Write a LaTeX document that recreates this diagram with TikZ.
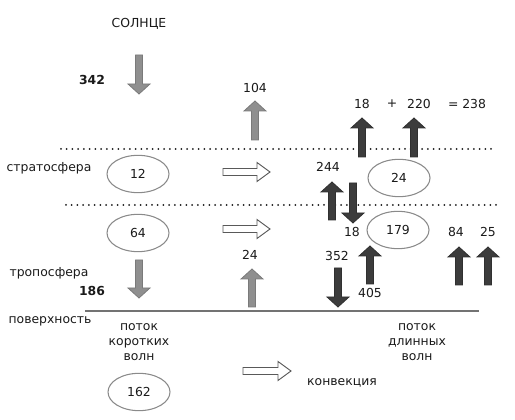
\documentclass[tikz,border=0pt]{standalone}
\usepackage{fontspec}
\setmainfont{DejaVu Sans}
\usepackage{xcolor}
\usetikzlibrary{shapes.geometric}
\definecolor{rimgray}{HTML}{8A8A8A}
\definecolor{lightflow}{HTML}{8F8F8F}
\definecolor{darkflow}{HTML}{3C3C3C}
\definecolor{txtgray}{HTML}{1A1A1A}
% block arrows: style, x, tail y, tip y
\newcommand{\flowup}[4]{\draw[#1] ({#2-3.5},#3) -- ({#2-3.5},{#4+10}) -- ({#2-11},{#4+10}) -- (#2,#4) -- ({#2+11},{#4+10}) -- ({#2+3.5},{#4+10}) -- ({#2+3.5},#3) -- cycle;}
\newcommand{\flowdown}[4]{\draw[#1] ({#2-3.5},#3) -- ({#2-3.5},{#4-10}) -- ({#2-11},{#4-10}) -- (#2,#4) -- ({#2+11},{#4-10}) -- ({#2+3.5},{#4-10}) -- ({#2+3.5},#3) -- cycle;}
% open arrow: style, tail x, tip x, y
\newcommand{\flowright}[4]{\draw[#1] (#2,{#4-3.5}) -- ({#3-13},{#4-3.5}) -- ({#3-13},{#4-9.5}) -- (#3,#4) -- ({#3-13},{#4+9.5}) -- ({#3-13},{#4+3.5}) -- (#2,{#4+3.5}) -- cycle;}

\begin{document}
\begin{tikzpicture}[x=0.75pt, y=-0.75pt, font=\fontsize{9.3}{11.25}\selectfont,
    lbl/.style={inner sep=0pt, text=txtgray, align=center},
    bold/.style={lbl, font=\fontsize{9.3}{11.25}\selectfont\bfseries},
    layer/.style={ellipse, draw=rimgray, line width=0.8pt, minimum width=46.5pt, minimum height=28pt, inner sep=0pt, text=txtgray},
    lightarrow/.style={fill=lightflow, draw=lightflow!85!black, line width=0.6pt},
    darkarrow/.style={fill=darkflow, draw=darkflow!80!black, line width=0.6pt},
    openarrow/.style={fill=white, draw=black!65, line width=0.7pt},
    dotline/.style={line width=1.5pt, line cap=round, dash pattern=on 0pt off 4.3pt, black!90},
    groundline/.style={line width=0.9pt, draw=black!55}]
    \useasboundingbox (0,0) rectangle (515,420);

    % layer boundaries
    \draw[dotline] (61,149) -- (496,149);
    \draw[dotline] (66,205) -- (499,205);
    \draw[groundline] (85,311) -- (479,311);

    % labels
    \node[lbl] (sun) at (139,24) {СОЛНЦЕ};
    \node[bold] (insol) at (92,80) {342};
    \node[lbl] (refl) at (255,88) {104};
    \node[lbl] (outa) at (362,104) {18};
    \node[lbl] (plus) at (392,104) {+};
    \node[lbl] (outb) at (419,104) {220};
    \node[lbl] (outsum) at (467,104) {= 238};
    \node[lbl] (strato) at (49,168) {стратосфера};
    \node[lbl] (strdown) at (328,167) {244};
    \node[lbl] (strup) at (352,232) {18};
    \node[lbl] (trpa) at (456,232) {84};
    \node[lbl] (trpb) at (488,232) {25};
    \node[lbl] (tropo) at (49,273) {тропосфера};
    \node[bold] (absorb) at (92,291) {186};
    \node[lbl] (convup) at (250,255) {24};
    \node[lbl] (back) at (337,256) {352};
    \node[lbl] (emit) at (370,293) {405};
    \node[lbl] (surf) at (50,321) {поверхность};
    \node[lbl] (shortw) at (139,342) {поток\\коротких\\волн};
    \node[lbl] (longw) at (417,342) {поток\\длинных\\волн};
    \node[lbl] (conv) at (342,383) {конвекция};

    % balance ellipses
    \node[layer] (st12) at (138,174) {12};
    \node[layer] (st24) at (399,178) {24};
    \node[layer] (tr64) at (138,233) {64};
    \node[layer] (tr179) at (398,230) {179};
    \node[layer] (gr162) at (139,392) {162};

    % short wave flows
    \flowdown{lightarrow}{139}{55}{94}
    \flowup{lightarrow}{255}{140}{101}
    \flowdown{lightarrow}{139}{260}{298}
    \flowup{lightarrow}{252}{307}{269}

    % long wave flows
    \flowup{darkarrow}{362}{157}{118}
    \flowup{darkarrow}{414}{157}{118}
    \flowup{darkarrow}{332}{220}{182}
    \flowdown{darkarrow}{353}{183}{223}
    \flowdown{darkarrow}{338}{268}{307}
    \flowup{darkarrow}{370}{284}{246}
    \flowup{darkarrow}{459}{285}{247}
    \flowup{darkarrow}{488}{285}{247}

    % horizontal transfer
    \flowright{openarrow}{223}{270}{172}
    \flowright{openarrow}{223}{270}{229}
    \flowright{openarrow}{243}{291}{371}
\end{tikzpicture}
\end{document}
